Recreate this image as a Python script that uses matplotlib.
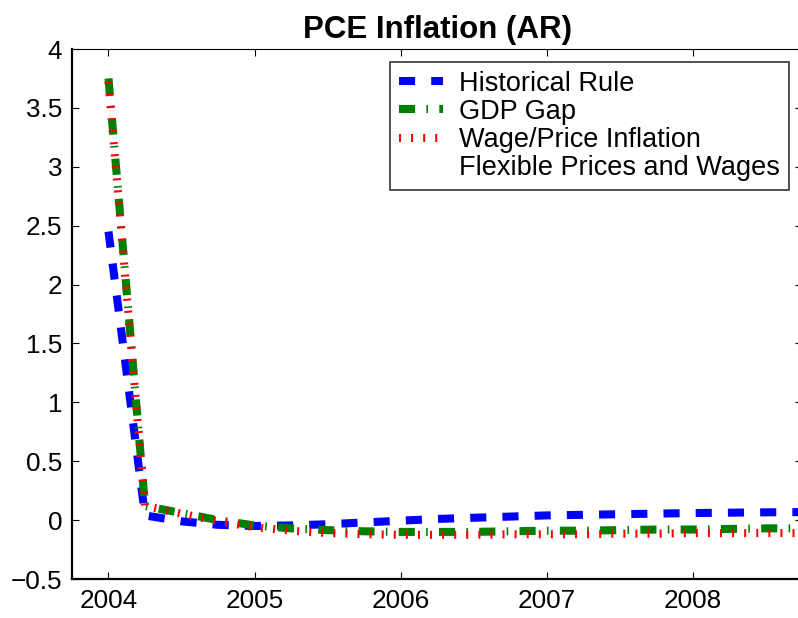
import matplotlib.pyplot as plt

plt.rcParams['font.family'] = ['Liberation Sans', 'DejaVu Sans']

# quarterly dates
dates = [2004.0, 2004.25, 2004.5, 2004.75, 2005.0, 2005.25, 2005.5, 2005.75,
         2006.0, 2006.25, 2006.5, 2006.75, 2007.0, 2007.25, 2007.5, 2007.75,
         2008.0, 2008.25, 2008.5, 2008.75]

historical = [2.45, 0.04, -0.01, -0.04, -0.05, -0.045, -0.035, -0.02,
              -0.005, 0.01, 0.02, 0.03, 0.04, 0.045, 0.05, 0.055,
              0.06, 0.063, 0.066, 0.068]
gdp_gap = [3.75, 0.12, 0.06, 0.0, -0.045, -0.07, -0.085, -0.095,
           -0.10, -0.10, -0.10, -0.095, -0.09, -0.09, -0.085, -0.08,
           -0.08, -0.075, -0.07, -0.07]
wage_price = [3.72, 0.12, 0.055, -0.01, -0.06, -0.09, -0.11, -0.12,
              -0.125, -0.125, -0.125, -0.12, -0.12, -0.12, -0.115, -0.115,
              -0.11, -0.11, -0.11, -0.11]
flexible = [0.0, 0.0, 0.0, 0.0, 0.0, 0.0, 0.0, 0.0, 0.0, 0.0,
            0.0, 0.0, 0.0, 0.0, 0.0, 0.0, 0.0, 0.0, 0.0, 0.0]

labels = ['Historical Rule', 'GDP Gap', 'Wage/Price Inflation',
          'Flexible Prices and Wages']
xticks = [2004, 2005, 2006, 2007, 2008]
yticks = [-0.5, 0, 0.5, 1, 1.5, 2, 2.5, 3, 3.5, 4]

fig = plt.figure(figsize=(7.98, 6.18), dpi=100)
ax = fig.add_axes([0.0902, 0.0631, 0.915, 0.8576])

lw = 5.8
ax.plot(dates, historical, color='#0000ff', lw=lw, dashes=(2, 2),
        label=labels[0], zorder=2)
ax.plot(dates, gdp_gap, color='#008000', lw=lw, dashes=(2, 1.4, 0.2, 1.4),
        label=labels[1], zorder=3)
ax.plot(dates, wage_price, color='#ff0000', lw=lw, dashes=(0.25, 1.25),
        label=labels[2], zorder=4)
ax.plot(dates, flexible, color='white', lw=1, label=labels[3], zorder=1)

ax.set_xlim(2003.75, 2008.75)
ax.set_ylim(-0.5, 4)
ax.set_xticks(xticks)
ax.set_yticks(yticks)
ax.set_yticklabels(['\u22120.5', '0', '0.5', '1', '1.5', '2', '2.5', '3', '3.5', '4'])

ax.tick_params(direction='in', length=5, width=0.8, labelsize=18.8,
               top=True, right=True, pad=7)
ax.spines['left'].set_linewidth(1.6)
ax.spines['bottom'].set_linewidth(1.6)
ax.spines['top'].set_linewidth(0.8)
ax.spines['right'].set_linewidth(0.8)

ax.set_title('PCE Inflation (AR)', fontsize=22.5, fontweight='bold', pad=8)

leg = ax.legend(loc='upper right', bbox_to_anchor=(789 / 798, 1 - 62 / 618),
                bbox_transform=fig.transFigure, fontsize=19.5,
                handlelength=1.65, handletextpad=0.6, labelspacing=0.08,
                borderpad=0.32, borderaxespad=0, fancybox=False)
leg.get_frame().set_edgecolor('black')
leg.get_frame().set_linewidth(1.2)

fig.savefig('out.png', dpi=100)
